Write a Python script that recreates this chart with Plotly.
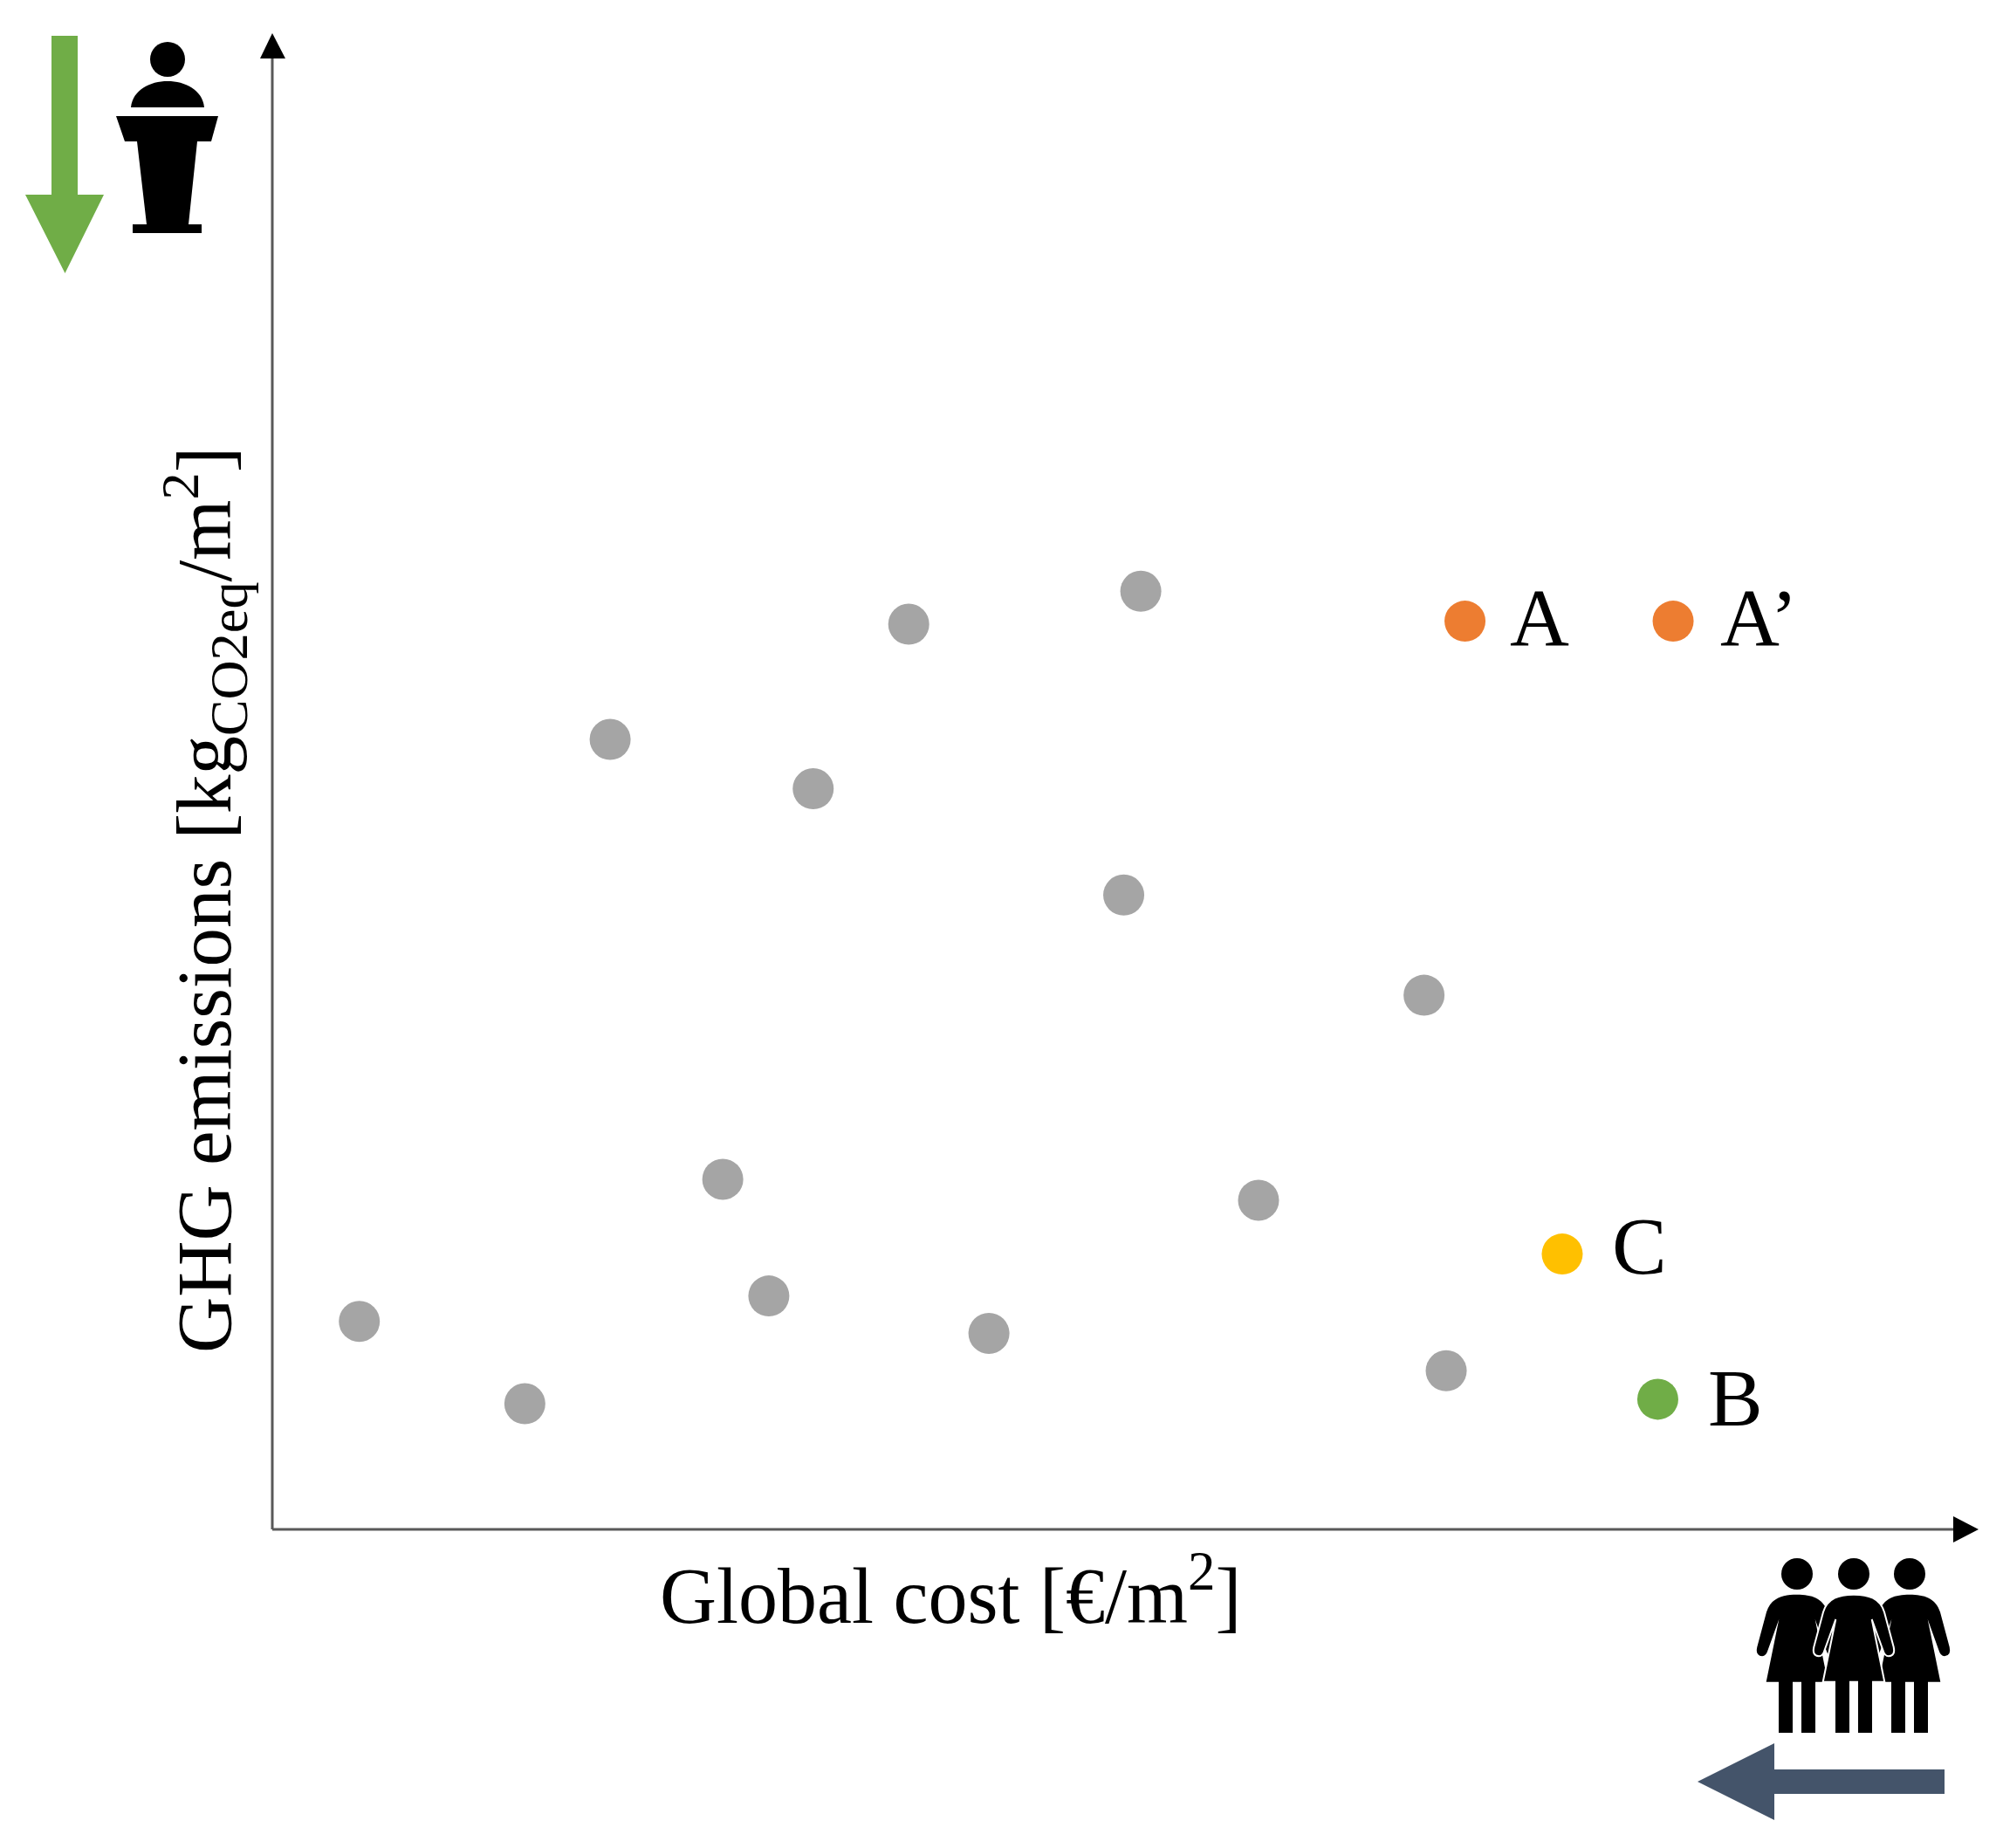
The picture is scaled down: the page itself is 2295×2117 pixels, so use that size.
import re
import plotly.graph_objects as go

# values in percent of the axis length
gray_x = [5.1, 14.8, 26.4, 29.1, 19.8, 31.7, 37.3, 50.9, 49.9, 67.5, 57.8, 42.0, 68.8]
gray_y = [13.9, 8.4, 23.4, 15.6, 52.8, 49.5, 60.5, 62.7, 42.4, 35.7, 22.0, 13.1, 10.6]

named_labels = ["A", "A’", "C", "B"]
named_x = [69.9, 82.1, 75.6, 81.2]
named_y = [60.7, 60.7, 18.4, 8.7]
named_colors = ["#ED7D31", "#ED7D31", "#FFC000", "#70AD47"]

x_title = "Global cost [€/m<sup>2</sup>]"
y_title = "GHG emissions [kg<sub>CO2eq</sub>/m<sup>2</sup>]"

W, H = 2295, 2117
LEFT, RIGHT, TOP, BOTTOM = 312, 2267, 38, 1752
SERIF = "Liberation Serif"
# nudges for the point labels, in pixels
label_dx = [49, 52, 55, 56]
label_dy = [5, 5, 10, 2]


def to_paper(px, py):
    return (px - LEFT) / (RIGHT - LEFT), (BOTTOM - py) / (BOTTOM - TOP)


def icon(path, color, line=None):
    # path is written in image pixels, shapes want paper coordinates
    def repl(m):
        px, py = to_paper(float(m.group(1)), float(m.group(2)))
        return f"{px:.5f},{py:.5f}"
    return dict(type="path", xref="paper", yref="paper", fillcolor=color,
                path=re.sub(r"(-?[\d.]+) (-?[\d.]+)", repl, path),
                line=dict(color=line or color, width=2 if line else 0))


def head(cx, cy, r):
    x0, y0 = to_paper(cx - r, cy + r)
    x1, y1 = to_paper(cx + r, cy - r)
    return dict(type="circle", xref="paper", yref="paper", x0=x0, y0=y0, x1=x1, y1=y1,
                fillcolor="black", line=dict(width=0))


def scaled(pts, cx):
    # offsets are 3x pixels from the zoomed crop
    def repl(m):
        return f"{cx + float(m.group(1)) / 3:.1f} {1700 + float(m.group(2)) / 3:.1f}"
    return re.sub(r"(-?[\d.]+) (-?[\d.]+)", repl, pts)


BODY = "M 0 380 C 50 380 90 392 105 440 L 137 560 Q 144 590 120 592 Q 106 592 100 570 L 62 465 L 106 680 L -106 680 L -62 465 L -100 570 Q -106 592 -120 592 Q -144 590 -137 560 L -105 440 C -90 392 -50 380 0 380 Z"
LEGS = "M 15 675 L 63 675 L 63 855 L 15 855 Z M -15 675 L -63 675 L -63 855 L -15 855 Z"

axis_line = dict(color="#595959", width=3)
shapes = [
    # axis lines and arrow heads
    dict(type="line", xref="paper", yref="paper", x0=0, x1=0, y0=0, y1=0.99, line=axis_line),
    dict(type="line", xref="paper", yref="paper", x0=0, x1=0.99, y0=0, y1=0, line=axis_line),
    icon("M 312 38 L 327 67 L 298 67 Z", "black"),
    icon("M 2267 1752 L 2238 1737 L 2238 1767 Z", "black"),
    # green arrow and speaker
    icon("M 59 41 L 89 41 L 89 223 L 119 223 L 74.5 313 L 29 223 L 59 223 Z", "#70AD47"),
    head(192, 68, 20),
    icon("M 150 123 C 152 103 172 93 192 93 C 212 93 232 103 234 123 Z", "black"),
    icon("M 133 133 L 250 133 L 242 162 L 226 162 L 216 257 L 231 257 L 231 267 L 152 267 L 152 257 L 168 257 L 157 162 L 143 162 Z", "black"),
    # people and blue arrow
    icon(scaled(BODY, 2059), "black"),
    icon(scaled(BODY, 2188), "black"),
    icon(scaled(BODY, 2124), "black", line="white"),
    icon(scaled(LEGS, 2059), "black"),
    icon(scaled(LEGS, 2124), "black"),
    icon(scaled(LEGS, 2188), "black"),
    head(2059, 1803, 18),
    head(2124, 1803, 18),
    head(2188, 1803, 18),
    icon("M 2228 2027 L 2033 2027 L 2033 1997 L 1945 2041 L 2033 2085 L 2033 2055 L 2228 2055 Z", "#44546A"),
]

annotations = [
    dict(x=to_paper(1089, 0)[0], y=to_paper(0, 1822)[1], xref="paper", yref="paper",
         xanchor="center", yanchor="middle",
         text=x_title, showarrow=False, font=dict(family=SERIF, size=90, color="black")),
    dict(x=to_paper(233, 0)[0], y=to_paper(0, 1031)[1], xref="paper", yref="paper",
         xanchor="center", yanchor="middle",
         text=y_title, textangle=-90, showarrow=False, font=dict(family=SERIF, size=89, color="black")),
]
for lab, xv, yv, dx, dy in zip(named_labels, named_x, named_y, label_dx, label_dy):
    annotations.append(dict(x=xv, y=yv, text=lab, showarrow=False, xanchor="left", xshift=dx, yshift=dy,
                            font=dict(family=SERIF, size=94, color="black")))

fig = go.Figure()
fig.add_trace(go.Scatter(x=gray_x, y=gray_y, mode="markers",
                         marker=dict(size=47, color="#A5A5A5"), showlegend=False))
fig.add_trace(go.Scatter(x=named_x, y=named_y, mode="markers",
                         marker=dict(size=47, color=named_colors), showlegend=False))

axis = dict(range=[0, 100], showgrid=False, zeroline=False, showticklabels=False, ticks="", showline=False)
fig.update_layout(width=W, height=H, paper_bgcolor="white", plot_bgcolor="white",
                  margin=dict(l=LEFT, r=W - RIGHT, t=TOP, b=H - BOTTOM),
                  xaxis=axis, yaxis=axis, shapes=shapes, annotations=annotations)
fig.write_html("out.html", config=dict(displayModeBar=False),
               post_script="document.body.style.margin='0';")
